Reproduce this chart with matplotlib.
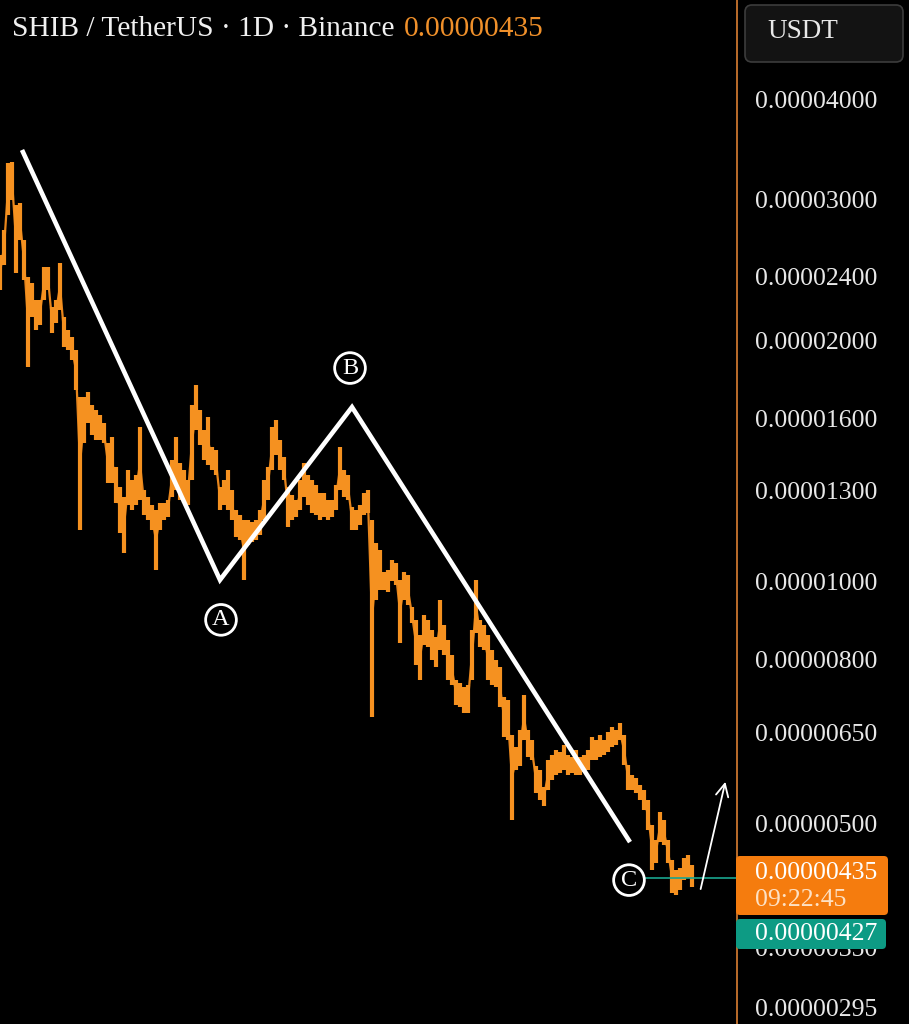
import numpy as np
import matplotlib
matplotlib.use("Agg")
import matplotlib.pyplot as plt
import matplotlib.ticker as mt
import matplotlib.transforms as mtr
from matplotlib.patches import FancyBboxPatch

plt.rcParams['font.family'] = ['Liberation Serif', 'DejaVu Serif']

# daily price swings, in units of 0.00000001 USDT
hi = [2556, 2746, 3328, 3338, 2950, 2967, 2669, 2400, 2359, 2247,
      2247, 2470, 2470, 2202, 2247, 2498, 2140, 2061, 2020, 1946,
      1701, 1701, 1726, 1662, 1639, 1615, 1579, 1490, 1516, 1391,
      1313, 1276, 1379, 1340, 1360, 1561, 1302, 1276, 1247, 1230,
      1254, 1254, 1265, 1419, 1516, 1407, 1379, 1340, 1662, 1761,
      1639, 1547, 1606, 1474, 1461, 1313, 1340, 1379, 1302, 1230,
      1212, 1195, 1195, 1188, 1195, 1230, 1340, 1391, 1561, 1592,
      1503, 1431, 1313, 1284, 1265, 1340, 1407, 1360, 1340, 1321,
      1291, 1291, 1265, 1265, 1321, 1474, 1379, 1360, 1240, 1230,
      1247, 1291, 1302, 1195, 1118, 1096, 1030, 1035, 1065, 1056,
      1006, 1030, 1020, 931, 897, 859, 910, 897, 871, 854,
      950, 884, 847, 811, 755, 748, 740, 744, 871, 1006,
      897, 884, 859, 823, 799, 784, 719, 713, 645, 622,
      654, 723, 654, 635, 589, 583, 556, 600, 609, 617,
      614, 626, 609, 605, 617, 605, 609, 617, 641, 635,
      645, 635, 650, 660, 654, 667, 645, 592, 575, 570,
      559, 551, 535, 498, 477, 517, 505, 477, 450, 438,
      440, 453, 457, 444]
lo = [2312, 2484, 2867, 2993, 2428, 2669, 2379, 1854, 2140, 2061,
      2091, 2247, 2312, 2043, 2103, 2183, 1963, 1946, 1891, 1736,
      1161, 1490, 1579, 1525, 1503, 1503, 1490, 1329, 1329, 1254,
      1151, 1087, 1247, 1230, 1247, 1265, 1212, 1195, 1161, 1035,
      1161, 1195, 1205, 1276, 1302, 1265, 1254, 1247, 1340, 1547,
      1482, 1419, 1399, 1379, 1360, 1230, 1247, 1230, 1195, 1138,
      1128, 1006, 1112, 1122, 1128, 1145, 1195, 1265, 1379, 1440,
      1379, 1340, 1171, 1195, 1205, 1230, 1276, 1247, 1219, 1212,
      1195, 1205, 1195, 1205, 1230, 1302, 1276, 1265, 1161, 1161,
      1178, 1212, 1219, 679, 950, 977, 977, 972, 1003, 991,
      840, 950, 936, 889, 788, 755, 835, 830, 799, 784,
      823, 811, 755, 744, 703, 699, 687, 687, 755, 864,
      830, 823, 755, 744, 740, 699, 641, 635, 505, 583,
      589, 635, 605, 600, 546, 535, 525, 551, 567, 575,
      578, 583, 575, 578, 575, 575, 580, 583, 600, 600,
      605, 609, 614, 622, 626, 635, 592, 551, 551, 546,
      535, 520, 491, 438, 447, 474, 470, 447, 409, 407,
      413, 425, 428, 417]
last_price = 435
bid_price = 427

# A-B-C wave drawn on top
wave_x = [5.5, 55, 88, 157.5]
wave_p = [3456, 1006, 1652, 474]
wave_lbl = ['A', 'B', 'C']
lbl_x = [55.25, 87.5, 157.25]
lbl_p = [897, 1848, 425]

yticks = [4000, 3000, 2400, 2000, 1600, 1300, 1000, 800, 650, 500, 350, 295]

S = 1e-8
W, H = 909, 1024
fig = plt.figure(figsize=(W / 100, H / 100), dpi=100)
fig.patch.set_facecolor('black')
ax = fig.add_axes([0, 0, 737 / W, 1])
ax.set_facecolor('black')
ax.set_yscale('log')
ax.set_ylim(281.2 * S, 5315 * S)
ax.set_xlim(0, 184.25)

x = np.arange(len(hi))
hi_v = np.array(hi) * S
lo_v = np.array(lo) * S
mid = np.sqrt(hi_v * lo_v)
ax.plot(x, mid, color='#e8861c', lw=1.6)
ax.vlines(x, lo_v, hi_v, color='#f59120', lw=3.0)

ax.plot(wave_x, np.array(wave_p) * S, color='white', lw=3.3,
        solid_joinstyle='miter', solid_capstyle='butt')
ax.hlines(bid_price * S, 157, 184.25, color='#1aa58e', lw=1.2, zorder=2)
for lx, lp, t in zip(lbl_x, lbl_p, wave_lbl):
    ax.text(lx, lp * S, t, ha='center', va='center', fontsize=17.5, color='white',
            zorder=5, bbox=dict(boxstyle='circle,pad=0.2', fc='black', ec='white', lw=2.0))
ax.annotate('', xy=(181.5, 568 * S), xytext=(175, 411 * S),
            arrowprops=dict(arrowstyle='->,head_length=0.9,head_width=0.45',
                            color='white', lw=1.3))

ax.yaxis.set_major_locator(mt.FixedLocator([t * S for t in yticks]))
ax.yaxis.set_minor_locator(mt.NullLocator())
ax.yaxis.set_major_formatter(mt.FixedFormatter(['%.8f' % (t * S) for t in yticks]))
ax.yaxis.tick_right()
ax.tick_params(axis='y', length=0, pad=13, labelsize=18.5, labelcolor='#e8e8e8')
ax.set_xticks([])
for s in ['top', 'left', 'bottom']:
    ax.spines[s].set_visible(False)
ax.spines['right'].set_color('#c9752e')
ax.spines['right'].set_linewidth(1.3)

# header
ident = mtr.IdentityTransform()
def px(xp, yp):
    return xp, H - yp

fig.text(*px(12, 29), 'SHIB / TetherUS · 1D · Binance', transform=ident,
         color='#f0f0f0', fontsize=21.2, va='center')
fig.text(*px(404, 29), '%.8f' % (last_price * S), transform=ident,
         color='#f0902a', fontsize=21.2, va='center')
fig.add_artist(FancyBboxPatch(px(745, 62), 158, 57, boxstyle='round,pad=0,rounding_size=7',
                              transform=ident, fc='#131313', ec='#3c3c3c', lw=1.2))
fig.text(*px(767, 31), 'USDT', transform=ident, color='#e8e8e8', fontsize=19.5, va='center')

# price labels on the axis
yc = H - ax.transData.transform((0, last_price * S))[1]
fig.add_artist(FancyBboxPatch(px(736, yc + 43), 152, 59, boxstyle='round,pad=0,rounding_size=4',
                              transform=ident, fc='#f57c0e', ec='none'))
fig.text(*px(755, yc + 1), '%.8f' % (last_price * S), transform=ident, color='white',
         fontsize=18.5, va='center')
fig.text(*px(755, yc + 28), '09:22:45', transform=ident, color='#fde1c4',
         fontsize=18.5, va='center')
fig.add_artist(FancyBboxPatch(px(736, yc + 77), 150, 30, boxstyle='round,pad=0,rounding_size=4',
                              transform=ident, fc='#0d9b84', ec='none'))
fig.text(*px(755, yc + 62), '%.8f' % (bid_price * S), transform=ident, color='white',
         fontsize=18.5, va='center')

fig.savefig('out.png', dpi=100, facecolor='black')
